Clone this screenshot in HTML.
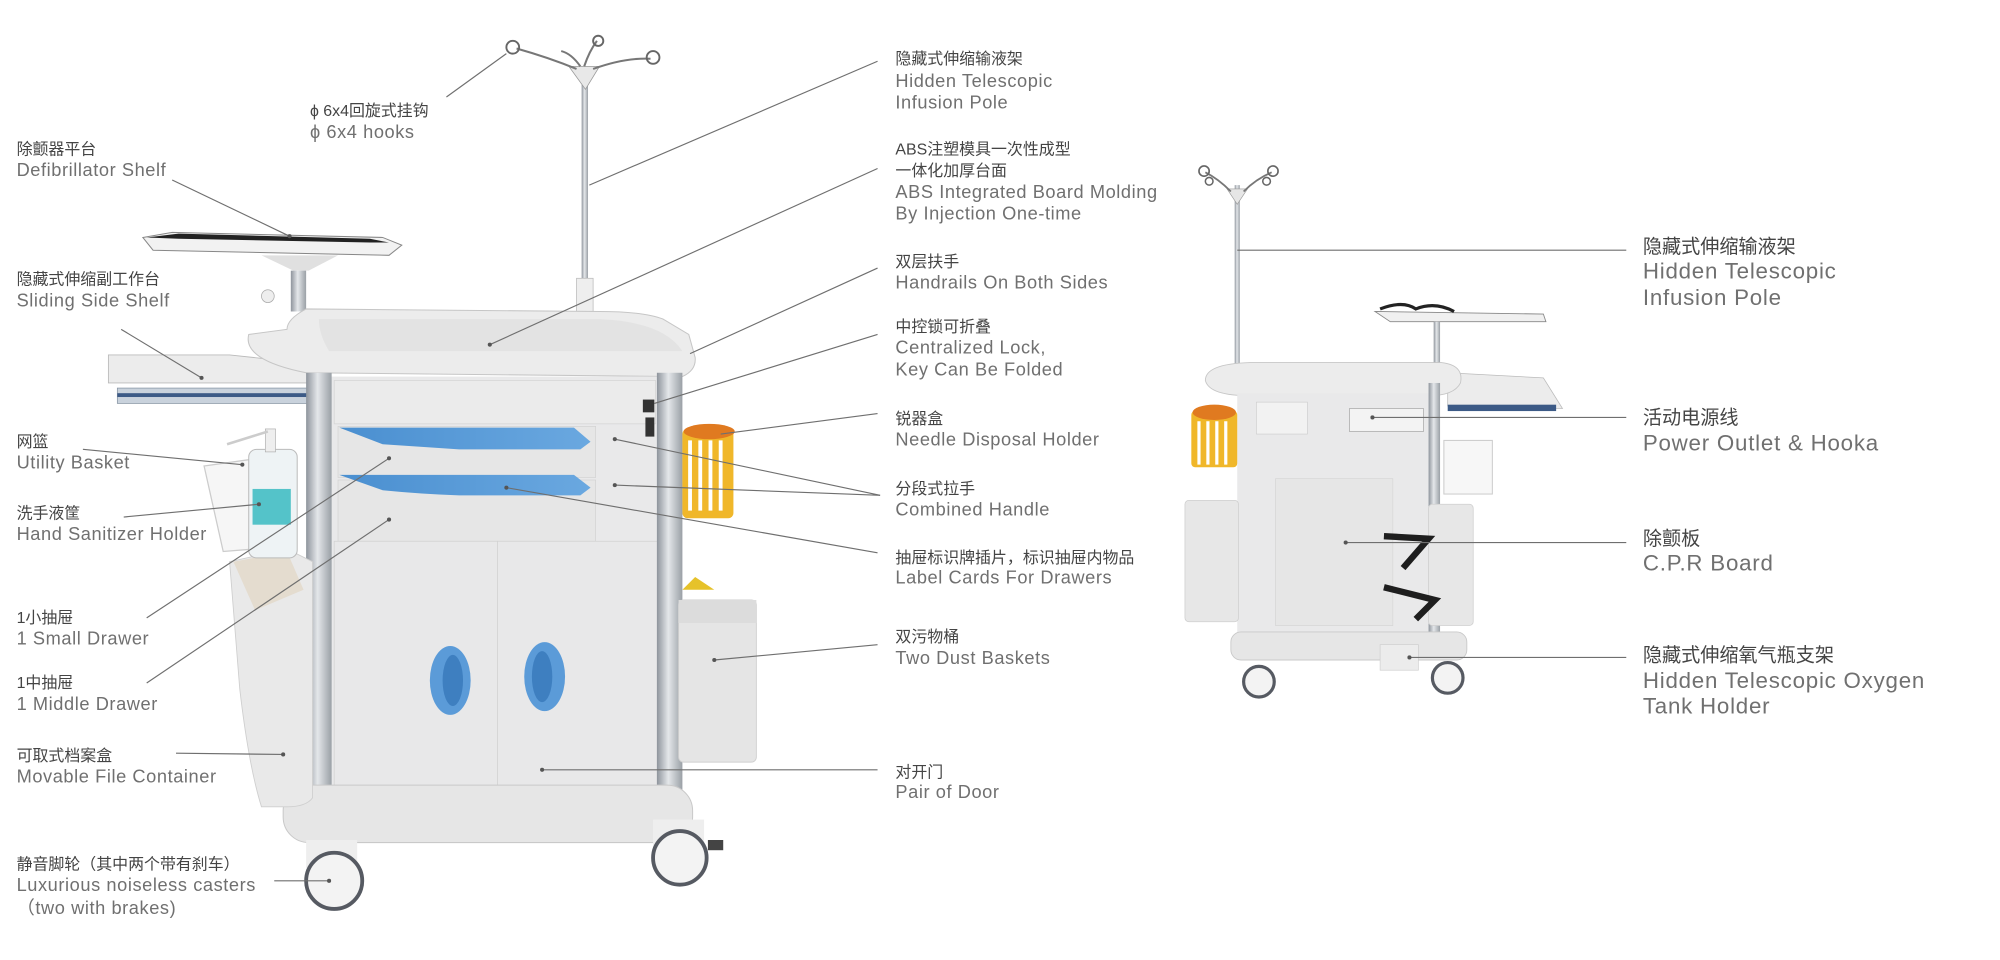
<!DOCTYPE html>
<html><head><meta charset="utf-8"><style>
html,body{margin:0;padding:0;background:#fff;}
svg{display:block}
.cn{font-family:"Liberation Sans","Noto Sans CJK SC",sans-serif;font-size:12.5px;fill:#444;font-weight:normal}
.en{font-family:"Liberation Sans","Noto Sans CJK SC",sans-serif;font-size:14.3px;fill:#707070;letter-spacing:0.45px}
.cnR{font-family:"Liberation Sans","Noto Sans CJK SC",sans-serif;font-size:15px;fill:#444;font-weight:normal}
.enR{font-family:"Liberation Sans","Noto Sans CJK SC",sans-serif;font-size:17.5px;fill:#707070;letter-spacing:0.6px}
.ln{stroke:#6f6f6f;stroke-width:0.9;fill:none}
.dot{fill:#555}
</style></head><body>
<svg width="2000" height="960" viewBox="0 0 1568 752" preserveAspectRatio="none" xmlns="http://www.w3.org/2000/svg">
<defs>
<linearGradient id="col" x1="0" x2="1"><stop offset="0" stop-color="#8e949c"/><stop offset="0.45" stop-color="#e4e7ea"/><stop offset="1" stop-color="#9aa0a6"/></linearGradient>
<linearGradient id="blue" x1="0" x2="1"><stop offset="0" stop-color="#4a8fd0"/><stop offset="1" stop-color="#6aa8e0"/></linearGradient>
</defs>
<rect width="1568" height="752" fill="#fff"/>

<!-- ========== LEFT CART ========== -->
<rect x="456" y="62" width="5" height="170" fill="url(#col)"/>
<path d="M446 52 L470 52 L459 70 Z" fill="#e8e8e8" stroke="#999" stroke-width="0.6"/>
<path d="M452 54 Q430 45 405 38 M465 54 Q490 45 510 46 M458 52 Q462 40 468 32 M455 52 Q448 42 440 40" stroke="#777" stroke-width="1.6" fill="none"/>
<circle cx="402" cy="37" r="5" fill="none" stroke="#666" stroke-width="1.5"/>
<circle cx="512" cy="45" r="5" fill="none" stroke="#666" stroke-width="1.5"/>
<circle cx="469" cy="32" r="4" fill="none" stroke="#666" stroke-width="1.5"/>
<rect x="452" y="218" width="13" height="26" fill="#eee" stroke="#bbb" stroke-width="0.6"/>
<path d="M112 186 L135 182 L300 186 L315 192 L305 200 L120 196 Z" fill="#f2f2f2" stroke="#888" stroke-width="0.8"/>
<path d="M115 186 L140 183 L290 187 L305 190 L290 190 L140 187 Z" fill="#222"/>
<path d="M205 200 L265 200 L242 212 L230 212 Z" fill="#e0e0e0"/>
<rect x="228" y="212" width="12" height="32" fill="url(#col)"/>
<circle cx="210" cy="232" r="5" fill="#eee" stroke="#aaa" stroke-width="0.6"/>
<path d="M85 278 L180 278 L245 285 L245 300 L85 300 Z" fill="#ececec" stroke="#bbb" stroke-width="0.7"/>
<rect x="92" y="304" width="153" height="12" fill="#c9d2dc" stroke="#8895a4" stroke-width="0.6"/>
<rect x="92" y="308" width="153" height="3" fill="#3c5a86"/>
<path d="M195 262 Q190 282 240 292 L535 295 Q546 290 545 280 L540 262 L520 250 Q505 244 470 244 L240 242 Q225 250 225 258 Z" fill="#ececec" stroke="#c6c6c6" stroke-width="0.8"/>
<path d="M250 250 L470 250 Q520 252 535 275 L258 275 Q250 262 250 250 Z" fill="#e3e3e3"/>
<rect x="258" y="295" width="262" height="340" fill="#e9e9ea"/>
<rect x="262" y="298" width="252" height="34" fill="#ebebeb" stroke="#d5d5d5" stroke-width="0.6"/>
<rect x="265" y="334" width="202" height="40" fill="#e6e6e6" stroke="#d0d0d0" stroke-width="0.5"/>
<rect x="265" y="376" width="202" height="48" fill="#e6e6e6" stroke="#d0d0d0" stroke-width="0.5"/>
<path d="M266 335 L450 335 L463 346 L455 352 L360 352 Q330 350 300 348 Z" fill="url(#blue)"/>
<path d="M266 372 L450 372 L463 382 L455 388 L360 388 Q330 387 300 384 Z" fill="url(#blue)"/>
<rect x="262" y="424" width="128" height="210" fill="#e8e8e9" stroke="#d2d2d2" stroke-width="0.6"/>
<rect x="390" y="424" width="126" height="210" fill="#e8e8e9" stroke="#d2d2d2" stroke-width="0.6"/>
<ellipse cx="353" cy="533" rx="16" ry="27" fill="#5b9bd8"/>
<ellipse cx="355" cy="533" rx="8" ry="20" fill="#3e7fc0"/>
<ellipse cx="427" cy="530" rx="16" ry="27" fill="#5b9bd8"/>
<ellipse cx="425" cy="530" rx="8" ry="20" fill="#3e7fc0"/>
<rect x="504" y="313" width="9" height="10" fill="#333"/>
<rect x="506" y="327" width="7" height="15" fill="#333"/>
<rect x="240" y="292" width="20" height="350" fill="url(#col)"/>
<rect x="515" y="292" width="20" height="350" fill="url(#col)"/>
<rect x="222" y="615" width="321" height="45" rx="20" fill="#e6e6e6" stroke="#c9c9c9" stroke-width="0.8"/>
<rect x="240" y="658" width="40" height="22" fill="#eee"/>
<circle cx="262" cy="690" r="22" fill="#f3f3f3" stroke="#565a62" stroke-width="3"/>
<rect x="512" y="642" width="40" height="22" fill="#eee"/>
<circle cx="533" cy="672" r="21" fill="#f3f3f3" stroke="#565a62" stroke-width="3"/>
<rect x="555" y="658" width="12" height="8" fill="#444"/>
<path d="M180 440 L225 430 L245 440 L245 625 Q240 632 225 632 L205 632 Q195 600 188 540 Z" fill="#e9e9e9" stroke="#cfcfcf" stroke-width="0.7"/>
<path d="M183 440 L225 432 L238 462 L200 478 Z" fill="#e4dccf"/>
<path d="M160 365 L210 358 L200 430 L175 432 Z" fill="#f6f6f6" stroke="#ccc" stroke-width="1"/>
<rect x="195" y="352" width="38" height="85" rx="6" fill="#eef3f5" stroke="#bbb" stroke-width="0.8"/>
<rect x="198" y="383" width="30" height="28" fill="#54c3c9"/>
<rect x="208" y="336" width="8" height="18" fill="#eee" stroke="#aaa" stroke-width="0.5"/>
<path d="M178 348 L210 338" stroke="#ccc" stroke-width="2"/>
<rect x="535" y="336" width="40" height="70" rx="4" fill="#f0b72a"/>
<path d="M541 345 v55 M549 345 v55 M557 345 v55 M565 345 v55" stroke="#fff" stroke-width="3"/>
<ellipse cx="556" cy="338" rx="20" ry="6" fill="#e07a20"/>
<path d="M535 462 L545 452 L560 462 Z" fill="#e6c22a"/>
<rect x="532" y="470" width="61" height="127" rx="4" fill="#e5e5e5" stroke="#cfcfcf" stroke-width="0.7"/>
<rect x="532" y="470" width="61" height="18" fill="#dcdcdc"/>

<!-- ========== RIGHT CART ========== -->
<rect x="968" y="145" width="4" height="142" fill="url(#col)"/>
<path d="M962 148 L978 148 L970 160 Z" fill="#e6e6e6" stroke="#999" stroke-width="0.5"/>
<path d="M965 150 Q955 140 945 135 M975 150 Q985 140 997 135" stroke="#777" stroke-width="1.4" fill="none"/>
<circle cx="944" cy="134" r="4" fill="none" stroke="#666" stroke-width="1.3"/>
<circle cx="998" cy="134" r="4" fill="none" stroke="#666" stroke-width="1.3"/>
<circle cx="948" cy="142" r="3" fill="none" stroke="#666" stroke-width="1.2"/>
<circle cx="993" cy="142" r="3" fill="none" stroke="#666" stroke-width="1.2"/>
<path d="M1078 244 L1210 246 L1212 252 L1090 252 Z" fill="#f0f0f0" stroke="#888" stroke-width="0.7"/>
<path d="M1082 242 Q1100 235 1110 242 Q1125 236 1140 244" stroke="#222" stroke-width="2.5" fill="none"/>
<rect x="1124" y="252" width="5" height="40" fill="url(#col)"/>
<path d="M1135 292 L1210 296 L1225 320 L1135 318 Z" fill="#ececec" stroke="#bbb" stroke-width="0.6"/>
<rect x="1135" y="317" width="85" height="5" fill="#3c5a86"/>
<path d="M945 298 Q945 285 980 284 L1130 284 Q1148 286 1145 300 Q1140 310 1120 310 L980 310 Q948 310 945 298 Z" fill="#ececec" stroke="#c6c6c6" stroke-width="0.7"/>
<rect x="970" y="308" width="152" height="190" fill="#e9e9ea"/>
<rect x="985" y="315" width="40" height="25" fill="#f2f2f2" stroke="#ccc" stroke-width="0.5"/>
<rect x="1058" y="320" width="58" height="18" fill="#f3f3f3" stroke="#aaa" stroke-width="0.6"/>
<rect x="1000" y="375" width="92" height="115" fill="#e6e6e6" stroke="#d3d3d3" stroke-width="0.5"/>
<rect x="1120" y="300" width="9" height="200" fill="url(#col)"/>
<rect x="934" y="322" width="36" height="44" rx="3" fill="#f0b72a"/>
<path d="M940 330 v34 M947 330 v34 M954 330 v34 M961 330 v34" stroke="#fff" stroke-width="2.5"/>
<ellipse cx="952" cy="323" rx="17" ry="6" fill="#e07a20"/>
<rect x="1132" y="345" width="38" height="42" fill="#f7f7f7" stroke="#ccc" stroke-width="0.8"/>
<rect x="929" y="392" width="42" height="95" rx="3" fill="#e7e7e7" stroke="#cfcfcf" stroke-width="0.6"/>
<rect x="1120" y="395" width="35" height="95" rx="3" fill="#e7e7e7" stroke="#cfcfcf" stroke-width="0.6"/>
<path d="M1085 420 L1120 422 L1100 445 M1085 460 L1125 470 L1110 485" stroke="#1e1e1e" stroke-width="5" fill="none"/>
<rect x="965" y="495" width="185" height="22" rx="8" fill="#e6e6e6" stroke="#c9c9c9" stroke-width="0.7"/>
<rect x="1082" y="505" width="30" height="20" fill="#ececec" stroke="#ccc" stroke-width="0.5"/>
<circle cx="987" cy="534" r="12" fill="#f3f3f3" stroke="#565a62" stroke-width="2.5"/>
<circle cx="1135" cy="531" r="12" fill="#f3f3f3" stroke="#565a62" stroke-width="2.5"/>

<!-- ========== CONNECTOR LINES ========== -->
<g class="ln">
<line x1="135" y1="141" x2="227" y2="185"/>
<line x1="95" y1="258" x2="158" y2="296"/>
<line x1="65" y1="352" x2="190" y2="364"/>
<line x1="97" y1="405" x2="203" y2="395"/>
<line x1="115" y1="484" x2="305" y2="359"/>
<line x1="115" y1="535" x2="305" y2="407"/>
<line x1="138" y1="590" x2="222" y2="591"/>
<line x1="215" y1="690" x2="258" y2="690"/>
<line x1="350" y1="76" x2="397" y2="42"/>
<line x1="688" y1="48" x2="462" y2="145"/>
<line x1="688" y1="132" x2="384" y2="270"/>
<line x1="688" y1="210" x2="541" y2="277"/>
<line x1="688" y1="262" x2="513" y2="316"/>
<line x1="688" y1="324" x2="565" y2="340"/>
<line x1="690" y1="388" x2="482" y2="344"/>
<line x1="690" y1="388" x2="482" y2="380"/>
<line x1="688" y1="433" x2="397" y2="382"/>
<line x1="688" y1="505" x2="560" y2="517"/>
<line x1="688" y1="603" x2="425" y2="603"/>
<line x1="1275" y1="196" x2="970" y2="196"/>
<line x1="1275" y1="327" x2="1076" y2="327"/>
<line x1="1275" y1="425" x2="1055" y2="425"/>
<line x1="1275" y1="515" x2="1105" y2="515"/>
</g>
<g class="dot">
<circle cx="227" cy="185" r="1.6"/><circle cx="158" cy="296" r="1.6"/><circle cx="190" cy="364" r="1.6"/><circle cx="203" cy="395" r="1.6"/>
<circle cx="305" cy="359" r="1.6"/><circle cx="305" cy="407" r="1.6"/><circle cx="222" cy="591" r="1.6"/><circle cx="258" cy="690" r="1.6"/>
<circle cx="384" cy="270" r="1.6"/><circle cx="482" cy="344" r="1.6"/><circle cx="482" cy="380" r="1.6"/><circle cx="397" cy="382" r="1.6"/>
<circle cx="560" cy="517" r="1.6"/><circle cx="425" cy="603" r="1.6"/>
<circle cx="1076" cy="327" r="1.6"/><circle cx="1055" cy="425" r="1.6"/><circle cx="1105" cy="515" r="1.6"/>
</g>

<!-- ========== LABELS ========== -->
<text class="cn" x="243" y="91">ϕ 6x4回旋式挂钩</text>
<text class="en" x="243" y="108">ϕ 6x4 hooks</text>

<text class="cn" x="13" y="121">除颤器平台</text>
<text class="en" x="13" y="138">Defibrillator Shelf</text>
<text class="cn" x="13" y="223">隐藏式伸缩副工作台</text>
<text class="en" x="13" y="240">Sliding Side Shelf</text>
<text class="cn" x="13" y="350">网篮</text>
<text class="en" x="13" y="367">Utility Basket</text>
<text class="cn" x="13" y="406">洗手液筐</text>
<text class="en" x="13" y="423">Hand Sanitizer Holder</text>
<text class="cn" x="13" y="488">1小抽屉</text>
<text class="en" x="13" y="505">1 Small Drawer</text>
<text class="cn" x="13" y="539">1中抽屉</text>
<text class="en" x="13" y="556">1 Middle Drawer</text>
<text class="cn" x="13" y="596">可取式档案盒</text>
<text class="en" x="13" y="613">Movable File Container</text>
<text class="cn" x="13" y="681">静音脚轮（其中两个带有刹车）</text>
<text class="en" x="13" y="698">Luxurious noiseless casters</text>
<text class="en" x="13" y="716">（two with brakes)</text>

<text class="cn" x="702" y="50">隐藏式伸缩输液架</text>
<text class="en" x="702" y="68">Hidden Telescopic</text>
<text class="en" x="702" y="85">Infusion Pole</text>
<text class="cn" x="702" y="121">ABS注塑模具一次性成型</text>
<text class="cn" x="702" y="138">一体化加厚台面</text>
<text class="en" x="702" y="155">ABS Integrated Board Molding</text>
<text class="en" x="702" y="172">By Injection One-time</text>
<text class="cn" x="702" y="209">双层扶手</text>
<text class="en" x="702" y="226">Handrails On Both Sides</text>
<text class="cn" x="702" y="260">中控锁可折叠</text>
<text class="en" x="702" y="277">Centralized Lock,</text>
<text class="en" x="702" y="294">Key Can Be Folded</text>
<text class="cn" x="702" y="332">锐器盒</text>
<text class="en" x="702" y="349">Needle Disposal Holder</text>
<text class="cn" x="702" y="387">分段式拉手</text>
<text class="en" x="702" y="404">Combined Handle</text>
<text class="cn" x="702" y="441">抽屉标识牌插片，标识抽屉内物品</text>
<text class="en" x="702" y="457">Label Cards For Drawers</text>
<text class="cn" x="702" y="503">双污物桶</text>
<text class="en" x="702" y="520">Two Dust Baskets</text>
<text class="cn" x="702" y="609">对开门</text>
<text class="en" x="702" y="625">Pair of Door</text>

<text class="cnR" x="1288" y="198">隐藏式伸缩输液架</text>
<text class="enR" x="1288" y="218">Hidden Telescopic</text>
<text class="enR" x="1288" y="239">Infusion Pole</text>
<text class="cnR" x="1288" y="332">活动电源线</text>
<text class="enR" x="1288" y="353">Power Outlet &amp; Hooka</text>
<text class="cnR" x="1288" y="427">除颤板</text>
<text class="enR" x="1288" y="447">C.P.R Board</text>
<text class="cnR" x="1288" y="518">隐藏式伸缩氧气瓶支架</text>
<text class="enR" x="1288" y="539">Hidden Telescopic Oxygen</text>
<text class="enR" x="1288" y="559">Tank Holder</text>
</svg>
</body></html>
